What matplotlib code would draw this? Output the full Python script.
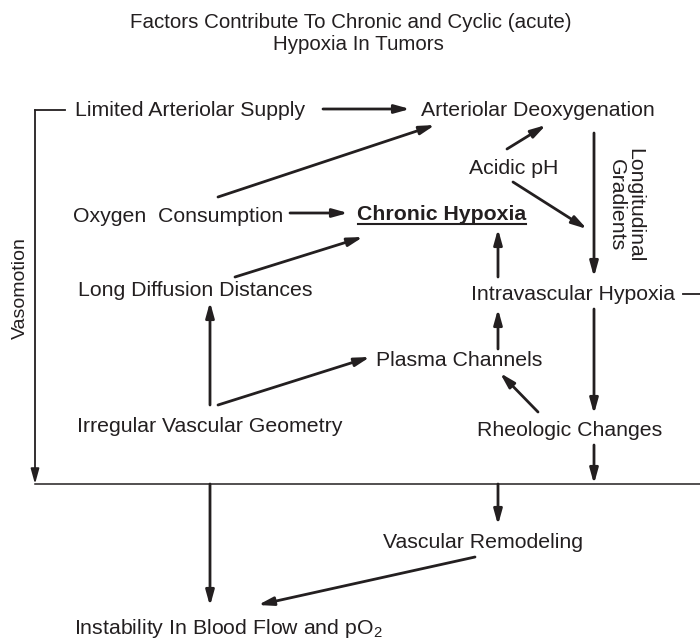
import matplotlib.pyplot as plt

plt.rcParams["font.family"] = ["Liberation Sans", "DejaVu Sans"]
plt.rcParams["mathtext.fontset"] = "custom"
plt.rcParams["mathtext.rm"] = "Liberation Sans"
plt.rcParams["mathtext.default"] = "regular"

INK = "#231f20"

# ── Text content ──────────────────────────────────────────────────────────────
TITLE = ["Factors Contribute To Chronic and Cyclic (acute)", "Hypoxia In Tumors"]

LABELS = [
    "Limited Arteriolar Supply",
    "Arteriolar Deoxygenation",
    "Acidic pH",
    "Oxygen  Consumption",
    "Long Diffusion Distances",
    "Intravascular Hypoxia",
    "Plasma Channels",
    "Irregular Vascular Geometry",
    "Rheologic Changes",
    "Vascular Remodeling",
    "Instability In Blood Flow and pO$_2$",
]
KEY_LABEL = "Chronic Hypoxia"
SIDE_LABELS = ["Vasomotion", "Longitudinal\nGradients"]

# ── Layout (pixel coordinates, y down) ────────────────────────────────────────
LABEL_POS = [
    (190, 110), (538, 110), (514, 169), (178, 216), (195, 291),
    (573, 294), (459, 360), (210, 426), (570, 430), (483, 542), (228, 629),
]
KEY_POS = (442, 215)

# arrows: (x0, y0) -> (x1, y1)
ARROWS = [
    ((323, 109), (410, 109)),   # limited supply -> deoxygenation
    ((218, 197), (435, 125)),   # consumption -> deoxygenation
    ((290, 213), (348, 213)),   # consumption -> chronic
    ((235, 277), (363, 237)),   # diffusion -> chronic
    ((507, 149), (546, 125)),   # acidic -> deoxygenation
    ((513, 182), (587, 229)),   # acidic -> intravascular
    ((594, 133), (594, 277)),   # longitudinal gradients
    ((498, 277), (498, 229)),   # intravascular -> chronic
    ((498, 349), (498, 309)),   # plasma -> intravascular
    ((594, 309), (594, 414)),   # intravascular -> rheologic
    ((538, 412), (500, 373)),   # rheologic -> plasma
    ((594, 445), (594, 484)),   # rheologic -> line
    ((210, 405), (210, 302)),   # geometry -> diffusion
    ((218, 405), (370, 357)),   # geometry -> plasma
    ((498, 484), (498, 525)),   # line -> remodeling
    ((210, 484), (210, 606)),   # line -> instability
    ((475, 557), (258, 605)),   # remodeling -> instability
    ((35, 110), (35, 484)),     # vasomotion
]

fig = plt.figure(figsize=(7.0, 6.43), dpi=100)
ax = fig.add_axes([0, 0, 1, 1])
ax.set_xlim(0, 700)
ax.set_ylim(643, 0)
ax.axis("off")

ax.text(351, 23, TITLE[0], ha="center", va="center", fontsize=14.8, color=INK)
ax.text(358, 44, TITLE[1], ha="center", va="center", fontsize=14.8, color=INK)

for label, (x, y) in zip(LABELS, LABEL_POS):
    ax.text(x, y, label, ha="center", va="center", fontsize=15.3, color=INK)

ax.text(*KEY_POS, KEY_LABEL, ha="center", va="center", fontsize=15.3,
        fontweight="bold", color=INK)
ax.plot([358, 526], [224, 224], color=INK, lw=1.5)

ax.text(20, 288, SIDE_LABELS[0], rotation=90, ha="center", va="center",
        fontsize=14.0, color=INK)
ax.text(626, 205, SIDE_LABELS[1], rotation=-90, ha="center", va="center",
        fontsize=15.3, color=INK, linespacing=0.95)

# plain lines
ax.plot([35, 65], [110, 110], color=INK, lw=1.3)
ax.plot([35, 700], [484, 484], color=INK, lw=1.1)
ax.plot([683, 700], [294, 294], color=INK, lw=1.3)

for (x0, y0), (x1, y1) in ARROWS:
    ax.annotate(
        "", xy=(x1, y1), xytext=(x0, y0),
        arrowprops=dict(arrowstyle="-|>,head_length=0.9,head_width=0.25",
                        lw=2.0 if x0 != 35 else 1.3, color=INK,
                        shrinkA=0, shrinkB=0),
    )

fig.savefig("out.png", dpi=100, facecolor="white")
